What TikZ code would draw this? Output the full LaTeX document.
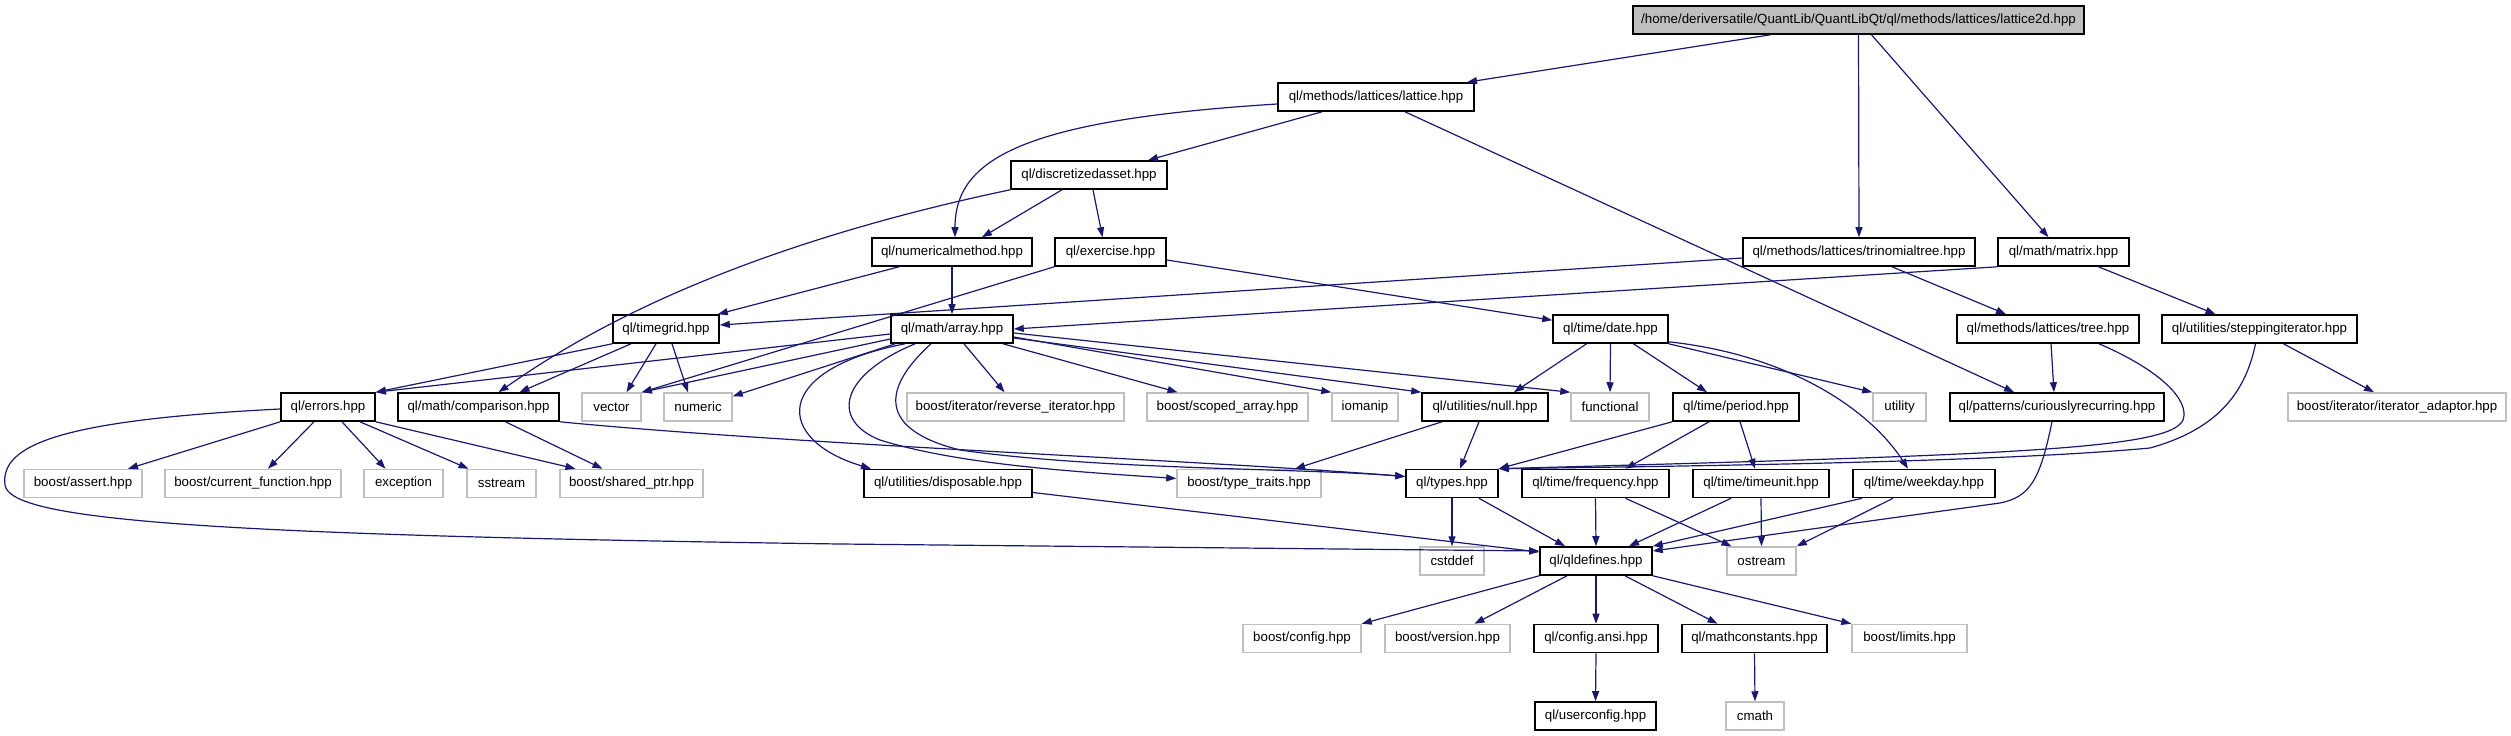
\documentclass[tikz,border=0pt]{standalone}
\usepackage{fontspec}
\newfontfamily\qlfont{Liberation Sans}
\usetikzlibrary{arrows.meta}
\definecolor{edgeblue}{HTML}{191970}
\definecolor{sysgray}{HTML}{BFBFBF}
\definecolor{rootgray}{HTML}{BFBFBF}
\tikzset{
  qbox/.style={draw=black, line width=1.6pt, fill=white, minimum height=28pt, inner xsep=2pt, inner ysep=0pt, font={\qlfont\fontsize{13.3}{14}\selectfont}, text=black},
  sbox/.style={qbox, draw=sysgray, line width=1.5pt},
  rbox/.style={qbox, fill=rootgray},
  e/.style={draw=edgeblue, line width=1.2pt, -{Triangle[length=10pt,width=7pt]}},
}
\begin{document}
\begin{tikzpicture}[x=1pt,y=-1pt]
\useasboundingbox (0,0) rectangle (2511,736);
% row 0
\node[rbox, minimum width=451pt] (root) at (1858.5,20) {/home/deriversatile/QuantLib/QuantLibQt/ql/methods/lattices/lattice2d.hpp};
% row 1
\node[qbox, minimum width=196pt] (lattice) at (1376,97) {ql/methods/lattices/lattice.hpp};
% row 2
\node[qbox, minimum width=156pt] (dasset) at (1089,175) {ql/discretizedasset.hpp};
% row 3
\node[qbox, minimum width=160pt] (nummeth) at (952,252) {ql/numericalmethod.hpp};
\node[qbox, minimum width=111pt] (exercise) at (1110.5,252) {ql/exercise.hpp};
\node[qbox, minimum width=232pt] (trino) at (1859,252) {ql/methods/lattices/trinomialtree.hpp};
\node[qbox, minimum width=131pt] (matrix) at (2063.5,252) {ql/math/matrix.hpp};
% row 4
\node[qbox, minimum width=106pt] (timegrid) at (666,329) {ql/timegrid.hpp};
\node[qbox, minimum width=122pt] (array) at (952,329) {ql/math/array.hpp};
\node[qbox, minimum width=115pt] (date) at (1610.5,329) {ql/time/date.hpp};
\node[qbox, minimum width=182pt] (tree) at (2048,329) {ql/methods/lattices/tree.hpp};
\node[qbox, minimum width=195pt] (stepping) at (2259.5,329) {ql/utilities/steppingiterator.hpp};
% row 5
\node[qbox, minimum width=94pt] (errors) at (328,407) {ql/errors.hpp};
\node[qbox, minimum width=161pt] (comparison) at (478.5,407) {ql/math/comparison.hpp};
\node[sbox, minimum width=59pt] (vector) at (611.5,407) {vector};
\node[sbox, minimum width=68pt] (numeric) at (698,407) {numeric};
\node[sbox, minimum width=217pt] (reviter) at (1015.5,407) {boost/iterator/reverse\_iterator.hpp};
\node[sbox, minimum width=161pt] (scoped) at (1227.5,407) {boost/scoped\_array.hpp};
\node[sbox, minimum width=66pt] (iomanip) at (1365,407) {iomanip};
\node[qbox, minimum width=126pt] (null) at (1485,407) {ql/utilities/null.hpp};
\node[sbox, minimum width=78pt] (functional) at (1610,407) {functional};
\node[qbox, minimum width=126pt] (period) at (1736,407) {ql/time/period.hpp};
\node[sbox, minimum width=53pt] (utility) at (1899.5,407) {utility};
\node[qbox, minimum width=214pt] (curious) at (2057,407) {ql/patterns/curiouslyrecurring.hpp};
\node[sbox, minimum width=218pt] (iteradapt) at (2397,407) {boost/iterator/iterator\_adaptor.hpp};
% row 6
\node[sbox, minimum width=118pt] (assert) at (83,483.5) {boost/assert.hpp};
\node[sbox, minimum width=176pt] (curfunc) at (253,483.5) {boost/current\_function.hpp};
\node[sbox, minimum width=79pt] (exception) at (403.5,483.5) {exception};
\node[sbox, minimum width=69pt] (sstream) at (501.5,483.5) {sstream};
\node[sbox, minimum width=143pt] (sharedptr) at (631.5,483.5) {boost/shared\_ptr.hpp};
\node[qbox, minimum width=168pt] (disposable) at (948,483.5) {ql/utilities/disposable.hpp};
\node[sbox, minimum width=144pt] (typetraits) at (1249,483.5) {boost/type\_traits.hpp};
\node[qbox, minimum width=92pt] (types) at (1452,483.5) {ql/types.hpp};
\node[qbox, minimum width=147pt] (frequency) at (1595.5,483.5) {ql/time/frequency.hpp};
\node[qbox, minimum width=136pt] (timeunit) at (1761,483.5) {ql/time/timeunit.hpp};
\node[qbox, minimum width=142pt] (weekday) at (1924,483.5) {ql/time/weekday.hpp};
% row 7
\node[sbox, minimum width=64pt] (cstddef) at (1452,561) {cstddef};
\node[qbox, minimum width=112pt] (qldefines) at (1596,561) {ql/qldefines.hpp};
\node[sbox, minimum width=69pt] (ostream) at (1761.5,561) {ostream};
% row 8
\node[sbox, minimum width=118pt] (config) at (1302,638.5) {boost/config.hpp};
\node[sbox, minimum width=125pt] (version) at (1447.5,638.5) {boost/version.hpp};
\node[qbox, minimum width=124pt] (configansi) at (1596,638.5) {ql/config.ansi.hpp};
\node[qbox, minimum width=145pt] (mathconst) at (1754.5,638.5) {ql/mathconstants.hpp};
\node[sbox, minimum width=115pt] (limits) at (1909.5,638.5) {boost/limits.hpp};
% row 9
\node[qbox, minimum width=121pt] (userconfig) at (1595.5,716) {ql/userconfig.hpp};
\node[sbox, minimum width=58pt] (cmath) at (1755,716) {cmath};

% edges
\draw[e] ([xshift=-88pt]root.south) -- ([xshift=91pt]lattice.north);
\draw[e] (root.south) -- (trino.north);
\draw[e] ([xshift=13pt]root.south) -- ([xshift=-15pt]matrix.north);
\draw[e] ([xshift=-54pt]lattice.south) -- ([xshift=59pt]dasset.north);
\draw[e] ([yshift=-7pt]lattice.west) .. controls (1020,120) and (955,160) .. ([xshift=3pt]nummeth.north);
\draw[e] ([xshift=29pt]lattice.south) -- ([xshift=-43pt]curious.north);
\draw[e] ([xshift=-27pt]dasset.south) -- ([xshift=30pt]nummeth.north);
\draw[e] ([xshift=4pt]dasset.south) -- ([xshift=-8pt]exercise.north);
\draw[e] (dasset.south west) .. controls (700,255) and (560,350) .. ([xshift=20pt]comparison.north);
\draw[e] ([xshift=-53pt]nummeth.south) -- ([xshift=-2pt]timegrid.north east);
\draw[e] (nummeth.south) -- (array.north);
\draw[e] ([yshift=-8pt]exercise.east) -- ([yshift=-6pt]date.north west);
\draw[e] (exercise.south west) -- (vector.north east);
\draw[e] ([yshift=-6pt]trino.west) -- ([yshift=4pt]timegrid.east);
\draw[e] ([xshift=33pt]trino.south) -- ([xshift=-42pt]tree.north);
\draw[e] (matrix.south west) -- (array.east);
\draw[e] ([xshift=35pt]matrix.south) -- ([xshift=-44pt]stepping.north);
\draw[e] ([xshift=3pt]tree.south) -- ([xshift=-3pt]curious.north);
\draw[e] ([xshift=51pt]tree.south) .. controls (2160,370) and (2190,400) .. (2183,420) .. controls (2170,450) and (2000,455) .. (types.north east);
\draw[e] ([xshift=-4pt]stepping.south) .. controls (2245,395) and (2215,430) .. (2150,448) .. controls (2000,462) and (1700,466) .. (types.north east);
\draw[e] ([xshift=24pt]stepping.south) -- ([xshift=-23pt]iteradapt.north);
\draw[e] (timegrid.south west) -- (errors.north east);
\draw[e] ([xshift=-35pt]timegrid.south) -- ([xshift=41pt]comparison.north);
\draw[e] ([xshift=-10pt]timegrid.south) -- ([xshift=15pt]vector.north);
\draw[e] ([xshift=6pt]timegrid.south) -- ([xshift=-10pt]numeric.north);
\draw[e] ([yshift=-5pt]array.west) -- (errors.north east);
\draw[e] ([yshift=-10pt]array.west) -- (vector.north east);
\draw[e] ([xshift=5pt]array.south west) -- ([yshift=-4pt]numeric.north east);
\draw[e] ([xshift=-47pt]array.south) .. controls (770,370) and (775,440) .. ([xshift=-77pt]disposable.north);
\draw[e] ([xshift=-37pt]array.south) .. controls (840,375) and (830,420) .. (880,440) .. controls (960,465) and (1080,472) .. ([yshift=5pt]typetraits.west);
\draw[e] ([xshift=-21pt]array.south) .. controls (880,390) and (880,430) .. (960,450) .. controls (1100,470) and (1300,468) .. ([yshift=7pt]types.west);
\draw[e] ([xshift=12pt]array.south) -- ([xshift=-11pt]reviter.north);
\draw[e] ([xshift=51pt]array.south) -- ([xshift=-50pt]scoped.north);
\draw[e] ([yshift=-8pt]array.east) -- (iomanip.north west);
\draw[e] ([yshift=-9pt]array.east) -- (null.north west);
\draw[e] ([yshift=-4pt]array.east) -- (functional.north west);
\draw[e] ([xshift=-24pt]date.south) -- ([xshift=29pt]null.north);
\draw[e] (date.south) -- (functional.north);
\draw[e] ([xshift=23pt]date.south) -- ([xshift=-29pt]period.north);
\draw[e] (date.south east) -- (utility.north west);
\draw[e] ([yshift=2pt]date.south east) .. controls (1790,355) and (1870,410) .. ([xshift=-16pt]weekday.north);
\draw[e] (errors.south west) -- ([xshift=45pt]assert.north);
\draw[e] ([xshift=-14pt]errors.south) -- ([xshift=15pt]curfunc.north);
\draw[e] ([xshift=14pt]errors.south) -- ([xshift=-18pt]exception.north);
\draw[e] ([xshift=32pt]errors.south) -- ([xshift=-33pt]sstream.north);
\draw[e] (errors.south east) -- ([xshift=-56pt]sharedptr.north);
\draw[e] ([yshift=-2pt]errors.west) .. controls (60,420) and (0,445) .. (5,485) .. controls (10,520) and (200,535) .. (840,544) -- ([yshift=10pt]qldefines.west);
\draw[e] ([xshift=27pt]comparison.south) -- ([xshift=-29pt]sharedptr.north);
\draw[e] (comparison.south east) .. controls (800,445) and (1200,460) .. ([yshift=7pt]types.west);
\draw[e] ([xshift=-43pt]null.south) -- ([xshift=46pt]typetraits.north);
\draw[e] ([xshift=-6pt]null.south) -- ([xshift=8pt]types.north);
\draw[e] (period.south west) -- (types.north east);
\draw[e] ([xshift=-27pt]period.south) -- ([xshift=30pt]frequency.north);
\draw[e] ([xshift=4pt]period.south) -- ([xshift=-6pt]timeunit.north);
\draw[e] ([xshift=-5pt]curious.south) .. controls (2040,480) and (2030,497) .. (2000,503) -- ([yshift=10pt]qldefines.east);
\draw[e] ([yshift=-9pt]disposable.east) -- ([yshift=9pt]qldefines.west);
\draw[e] (types.south) -- (cstddef.north);
\draw[e] ([xshift=27pt]types.south) -- ([xshift=-31pt]qldefines.north);
\draw[e] (frequency.south) -- (qldefines.north);
\draw[e] ([xshift=30pt]frequency.south) -- ([xshift=-30pt]ostream.north);
\draw[e] ([xshift=-30pt]timeunit.south) -- ([xshift=33pt]qldefines.north);
\draw[e] (timeunit.south) -- (ostream.north);
\draw[e] ([xshift=-62pt]weekday.south) -- (qldefines.north east);
\draw[e] ([xshift=-31pt]weekday.south) -- (ostream.north east);
\draw[e] (qldefines.south west) -- (config.north east);
\draw[e] ([xshift=-29pt]qldefines.south) -- ([xshift=27pt]version.north);
\draw[e] (qldefines.south) -- (configansi.north);
\draw[e] ([xshift=29pt]qldefines.south) -- ([xshift=-37pt]mathconst.north);
\draw[e] (qldefines.south east) -- (limits.north west);
\draw[e] (configansi.south) -- (userconfig.north);
\draw[e] (mathconst.south) -- (cmath.north);
\end{tikzpicture}
\end{document}
